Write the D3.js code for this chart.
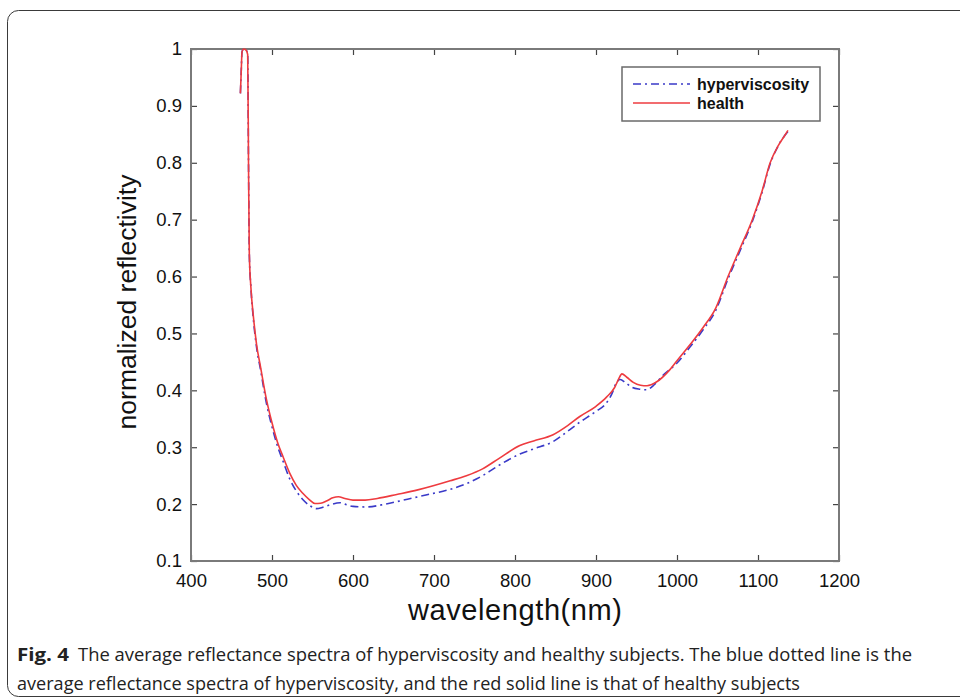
<!DOCTYPE html>
<html>
<head>
<meta charset="utf-8">
<script src="https://cdn.jsdelivr.net/npm/d3@7"></script>
<style>
  body { margin: 0; background: #fff; }
  svg text { font-family: "Liberation Sans", Arial, sans-serif; }
</style>
</head>
<body>
<div id="chart"></div>
<script>
// wavelength (nm), normalized reflectivity
const healthWl = [461, 462, 463, 465, 468, 470, 471, 472, 474, 477, 481, 486, 493, 500, 507, 514, 522, 530, 538, 546, 553, 560, 568, 575, 582, 590, 600, 615, 630, 654, 680, 720, 740, 760, 780, 806, 823, 847, 865, 880, 900, 913, 923, 928, 932, 938, 946, 955, 963, 975, 991, 1000, 1016, 1032, 1048, 1063, 1078, 1093, 1105, 1115, 1125, 1133, 1137]
const healthVal = [0.922, 0.96, 0.995, 1.0, 0.998, 0.99, 0.8, 0.64, 0.58, 0.53, 0.48, 0.44, 0.385, 0.343, 0.308, 0.282, 0.254, 0.233, 0.219, 0.208, 0.201, 0.2015, 0.206, 0.211, 0.213, 0.21, 0.207, 0.207, 0.21, 0.217, 0.225, 0.241, 0.25, 0.262, 0.28, 0.303, 0.311, 0.322, 0.338, 0.354, 0.372, 0.388, 0.405, 0.42, 0.429, 0.423, 0.414, 0.409, 0.408, 0.415, 0.436, 0.452, 0.48, 0.51, 0.545, 0.6, 0.65, 0.7, 0.75, 0.8, 0.83, 0.848, 0.857]

const hyperWl = [461, 462, 463, 465, 468, 470, 471, 472, 474, 477, 481, 486, 493, 500, 507, 514, 522, 530, 538, 546, 555, 562, 570, 584, 592, 600, 616, 640, 662, 690, 720, 740, 760, 780, 806, 823, 847, 865, 880, 900, 913, 920, 925, 930, 936, 945, 954, 962, 972, 981, 1000, 1016, 1032, 1048, 1063, 1078, 1093, 1105, 1115, 1125, 1133, 1137]
const hyperVal = [0.922, 0.96, 0.995, 1.0, 0.998, 0.99, 0.8, 0.64, 0.58, 0.525, 0.475, 0.435, 0.378, 0.336, 0.301, 0.274, 0.244, 0.223, 0.208, 0.198, 0.192, 0.194, 0.198, 0.2025, 0.199, 0.196, 0.195, 0.2, 0.207, 0.216, 0.226, 0.236, 0.25, 0.268, 0.288, 0.297, 0.31, 0.328, 0.344, 0.363, 0.378, 0.395, 0.413, 0.419, 0.414, 0.405, 0.402, 0.401, 0.41, 0.424, 0.448, 0.476, 0.506, 0.541, 0.596, 0.646, 0.697, 0.748, 0.798, 0.83, 0.848, 0.855]

const xTicks = [400, 500, 600, 700, 800, 900, 1000, 1100, 1200]
const yTicks = [0.1, 0.2, 0.3, 0.4, 0.5, 0.6, 0.7, 0.8, 0.9, 1]
const seriesNames = ['hyperviscosity', 'health']

const captionBold = 'Fig. 4'
const captionLine1 = 'The average reflectance spectra of hyperviscosity and healthy subjects. The blue dotted line is the'
const captionLine2 = 'average reflectance spectra of hyperviscosity, and the red solid line is that of healthy subjects'

const width = 960
const height = 699
const plot = { left: 191, right: 839, top: 49, bottom: 561 }
const axisColor = '#7a7a7a'
const blue = '#3a3ac8'
const red = '#ee3b3f'

const svg = d3.select('#chart')
    .append('svg')
    .attr('width', width)
    .attr('height', height)

// outer figure frame
svg.append('rect')
    .attr('x', 7.5).attr('y', 10.5)
    .attr('width', 1000).attr('height', 686)
    .attr('rx', 11)
    .attr('fill', 'none')
    .attr('stroke', '#3a3a3a')
    .attr('stroke-width', 1)

const x = d3.scaleLinear().domain([400, 1200]).range([plot.left, plot.right])
const y = d3.scaleLinear().domain([0.1, 1]).range([plot.bottom, plot.top])

// axes, ticks pointing inward
const xAxis = svg.append('g')
    .attr('transform', `translate(0, ${plot.bottom})`)
    .call(d3.axisBottom(x).tickValues(xTicks).tickSizeInner(-6).tickSizeOuter(0).tickPadding(13)
        .tickFormat(d => String(d)))
const xTop = svg.append('g')
    .attr('transform', `translate(0, ${plot.top})`)
    .call(d3.axisTop(x).tickValues(xTicks).tickSizeInner(-6).tickSizeOuter(0).tickFormat(''))
const yAxis = svg.append('g')
    .attr('transform', `translate(${plot.left}, 0)`)
    .call(d3.axisLeft(y).tickValues(yTicks).tickSizeInner(-6).tickSizeOuter(0).tickPadding(9)
        .tickFormat(d => d === 1 ? '1' : d.toFixed(1)))
const yRight = svg.append('g')
    .attr('transform', `translate(${plot.right}, 0)`)
    .call(d3.axisRight(y).tickValues(yTicks).tickSizeInner(-6).tickSizeOuter(0).tickFormat(''))

;[xAxis, xTop, yAxis, yRight].forEach(g => {
    g.select('.domain').remove()
    g.selectAll('line').attr('stroke', '#444').attr('stroke-width', 1.2)
    g.selectAll('text')
        .attr('fill', '#111')
        .style('font-size', '18.5px')
        .style('font-family', '"Liberation Sans", Arial, sans-serif')
})

// plot box
svg.append('rect')
    .attr('x', plot.left).attr('y', plot.top)
    .attr('width', plot.right - plot.left)
    .attr('height', plot.bottom - plot.top)
    .attr('fill', 'none')
    .attr('stroke', axisColor)
    .attr('stroke-width', 2)

// curves
const line = d3.line()
    .x(d => x(d[0]))
    .y(d => y(d[1]))
    .curve(d3.curveMonotoneX)

const hyperData = hyperWl.map((w, i) => [w, hyperVal[i]])
const healthData = healthWl.map((w, i) => [w, healthVal[i]])

svg.append('path')
    .datum(hyperData)
    .attr('d', line)
    .attr('fill', 'none')
    .attr('stroke', blue)
    .attr('stroke-width', 1.6)
    .attr('stroke-dasharray', '8,4,2,4')

svg.append('path')
    .datum(healthData)
    .attr('d', line)
    .attr('fill', 'none')
    .attr('stroke', red)
    .attr('stroke-width', 1.6)

// legend
const legend = svg.append('g')
legend.append('rect')
    .attr('x', 622).attr('y', 67)
    .attr('width', 198).attr('height', 54)
    .attr('fill', '#fff')
    .attr('stroke', '#6a6a6a')
    .attr('stroke-width', 1.5)

const legendStyles = [
    { color: blue, dash: '8,4,2,4' },
    { color: red, dash: null }
]
seriesNames.forEach((name, i) => {
    const ly = 84 + i * 19
    legend.append('line')
        .attr('x1', 633).attr('x2', 690)
        .attr('y1', ly).attr('y2', ly)
        .attr('stroke', legendStyles[i].color)
        .attr('stroke-width', 1.6)
        .attr('stroke-dasharray', legendStyles[i].dash)
    legend.append('text')
        .attr('x', 697).attr('y', ly + 5.5)
        .style('font-size', '16px')
        .style('font-weight', 'bold')
        .attr('fill', '#111')
        .text(name)
})

// axis titles
svg.append('text')
    .attr('x', 515).attr('y', 620)
    .attr('text-anchor', 'middle')
    .attr('textLength', 214)
    .style('font-size', '29px')
    .attr('fill', '#111')
    .text('wavelength(nm)')

svg.append('text')
    .attr('transform', 'translate(136, 302) rotate(-90)')
    .attr('text-anchor', 'middle')
    .style('font-size', '26.5px')
    .attr('fill', '#111')
    .text('normalized reflectivity')

// caption
const capFont = '"Open Sans", sans-serif'
svg.append('text')
    .attr('x', 17).attr('y', 661)
    .attr('textLength', 52)
    .attr('lengthAdjust', 'spacingAndGlyphs')
    .style('font-family', capFont)
    .style('font-size', '18px')
    .style('font-weight', 'bold')
    .attr('fill', '#222')
    .text(captionBold)

svg.append('text')
    .attr('x', 78).attr('y', 661)
    .attr('textLength', 834)
    .attr('lengthAdjust', 'spacingAndGlyphs')
    .style('font-family', capFont)
    .style('font-size', '18px')
    .attr('fill', '#222')
    .text(captionLine1)

svg.append('text')
    .attr('x', 17).attr('y', 690)
    .attr('textLength', 783)
    .attr('lengthAdjust', 'spacingAndGlyphs')
    .style('font-family', capFont)
    .style('font-size', '18px')
    .attr('fill', '#222')
    .text(captionLine2)
</script>
</body>
</html>
